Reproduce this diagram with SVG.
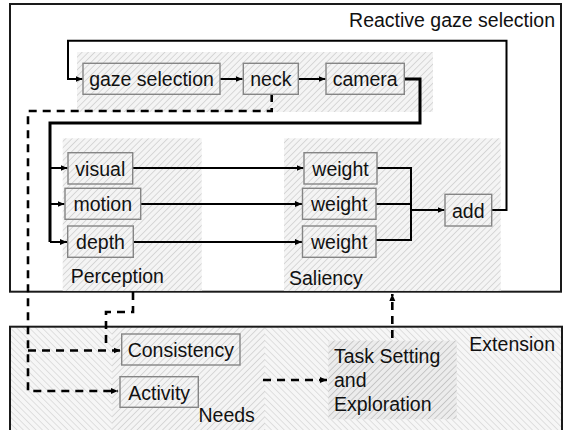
<svg xmlns="http://www.w3.org/2000/svg" width="566" height="430" viewBox="0 0 566 430">
<defs>
<pattern id="hatchF" width="4.5" height="4.5" patternUnits="userSpaceOnUse" patternTransform="rotate(45)">
<rect width="4.5" height="4.5" fill="#f4f4f4"/>
<line x1="0" y1="0" x2="0" y2="4.5" stroke="#c4c4c4" stroke-width="1.2"/>
</pattern>
<pattern id="hatchB" width="4.5" height="4.5" patternUnits="userSpaceOnUse" patternTransform="rotate(-45)">
<rect width="4.5" height="4.5" fill="#f6f6f6"/>
<line x1="0" y1="0" x2="0" y2="4.5" stroke="#cfcfcf" stroke-width="1.2"/>
</pattern>
<pattern id="hatchD" width="4.5" height="4.5" patternUnits="userSpaceOnUse" patternTransform="rotate(45)">
<rect width="4.5" height="4.5" fill="#ececec"/>
<line x1="0" y1="0" x2="0" y2="4.5" stroke="#b4b4b4" stroke-width="1.3"/>
</pattern>
<marker id="arr" markerUnits="userSpaceOnUse" markerWidth="8" markerHeight="8" refX="7" refY="4" orient="auto">
<path d="M0,1 L7,4 L0,7 Z" fill="#000"/>
</marker>
</defs>
<style>
text{font-family:"Liberation Sans",Arial,sans-serif;font-size:19.5px;fill:#111}
.box{fill:none;stroke:#858585;stroke-width:1.4}
.frame{fill:none;stroke:#1a1a1a;stroke-width:2}
.ln{fill:none;stroke:#000;stroke-width:2}
.thk{fill:none;stroke:#000;stroke-width:3}
.dsh{fill:none;stroke:#000;stroke-width:2.6;stroke-dasharray:8 6}
.mid{text-anchor:middle}
</style>
<rect width="566" height="430" fill="#fff"/>

<!-- bottom frame background -->
<g id="extension">
<rect x="10" y="326.7" width="552" height="110" fill="url(#hatchB)"/>
<rect x="112" y="326.7" width="153" height="110" fill="url(#hatchF)"/>
<rect x="328.3" y="340.7" width="128.4" height="78.6" fill="url(#hatchD)"/>
<rect x="10" y="326.7" width="552" height="110" class="frame"/>
<text x="555" y="351" text-anchor="end">Extension</text>
</g>

<g id="reactive">
<rect x="10" y="4" width="551" height="287.7" class="frame"/>
<text x="555" y="26.5" text-anchor="end">Reactive gaze selection</text>
</g>

<g id="motor-region"><rect x="77" y="52" width="356" height="60" fill="url(#hatchF)"/></g>
<g id="perception">
<rect x="62.7" y="138.3" width="139" height="152.5" fill="url(#hatchF)"/>
<text x="70.7" y="283">Perception</text>
</g>
<g id="saliency">
<rect x="284" y="138.3" width="216.7" height="152.5" fill="url(#hatchF)"/>
<text x="289" y="285">Saliency</text>
</g>

<g id="connectors">
<path class="ln" d="M491.7,210 H506.5 V40.7 H68 V79 H82.5" marker-end="url(#arr)"/>
<path class="ln" d="M220,79 H242.5" marker-end="url(#arr)"/>
<path class="ln" d="M298.3,79 H325.5" marker-end="url(#arr)"/>
<path class="thk" d="M404.3,79 H420 V123 H50 V242"/>
<path class="ln" d="M50,242 H67" marker-end="url(#arr)"/>
<path class="ln" d="M50,168 H67.5" marker-end="url(#arr)"/>
<path class="ln" d="M50,204 H64.5" marker-end="url(#arr)"/>
<path class="ln" d="M132.7,168 H303.5" marker-end="url(#arr)"/>
<path class="ln" d="M140.7,204 H302" marker-end="url(#arr)"/>
<path class="ln" d="M133.3,242 H302" marker-end="url(#arr)"/>
<path class="ln" d="M377,168 H411 V240 H376"/>
<path class="ln" d="M376,204 H411"/>
<path class="ln" d="M411,210 H444.5" marker-end="url(#arr)"/>
<path class="dsh" d="M271.7,94 V111 H28 V391 H118" marker-end="url(#arr)"/>
<path class="dsh" d="M28,350.5 H120.5" marker-end="url(#arr)"/>
<path class="dsh" d="M133,292 V312 H106 V348"/>
<path class="dsh" d="M263,380 H327" marker-end="url(#arr)"/>
<path class="dsh" d="M392.3,338 V294" marker-end="url(#arr)"/>
</g>

<g id="gaze-selection"><rect x="83" y="63.3" width="137" height="31" class="box"/><text x="151.5" y="86" class="mid">gaze selection</text></g>
<g id="neck"><rect x="243.3" y="63.3" width="55" height="31" class="box"/><text x="270.8" y="86" class="mid">neck</text></g>
<g id="camera"><rect x="326" y="63.3" width="78.3" height="31" class="box"/><text x="365.2" y="86" class="mid">camera</text></g>
<g id="visual"><rect x="68" y="152.7" width="64.7" height="31.3" class="box"/><text x="100.3" y="175.5" class="mid">visual</text></g>
<g id="motion"><rect x="65" y="188.3" width="75.7" height="31" class="box"/><text x="102.8" y="211" class="mid">motion</text></g>
<g id="depth"><rect x="67.7" y="226" width="65.6" height="31.3" class="box"/><text x="100.5" y="249" class="mid">depth</text></g>
<g id="weight1"><rect x="304" y="152.7" width="73" height="31.3" class="box"/><text x="340.5" y="175.5" class="mid">weight</text></g>
<g id="weight2"><rect x="302.5" y="188.3" width="73.5" height="31" class="box"/><text x="339.2" y="211" class="mid">weight</text></g>
<g id="weight3"><rect x="302.5" y="226" width="73.5" height="31.3" class="box"/><text x="339.2" y="249" class="mid">weight</text></g>
<g id="add"><rect x="445" y="194.3" width="46.7" height="31.7" class="box"/><text x="468.3" y="217.5" class="mid">add</text></g>
<g id="consistency"><rect x="121.7" y="334" width="118.3" height="31" class="box"/><text x="180.8" y="357" class="mid">Consistency</text></g>
<g id="activity"><rect x="120" y="376.7" width="78.3" height="30.6" class="box"/><text x="159.2" y="399.5" class="mid">Activity</text></g>
<g id="needs"><text x="198.5" y="421.7">Needs</text></g>
<g id="task-setting">
<text x="334" y="363.3">Task Setting</text>
<text x="334" y="386.7">and</text>
<text x="334" y="410.7">Exploration</text>
</g>
</svg>
